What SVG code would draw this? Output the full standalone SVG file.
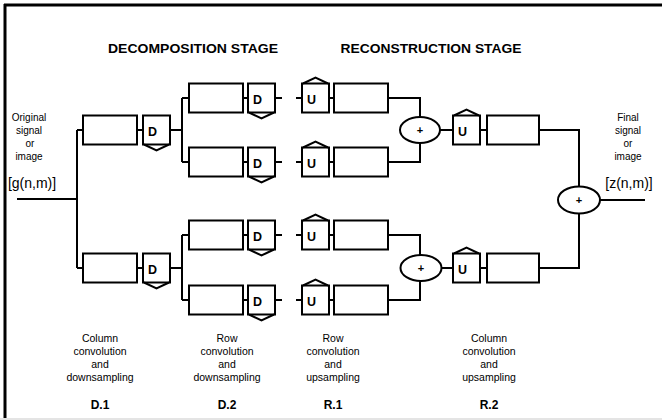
<svg xmlns="http://www.w3.org/2000/svg" width="662" height="420" viewBox="0 0 662 420">
  <style>
    .ln { fill: none; stroke: #000; stroke-width: 2; }
    .box { fill: #fff; stroke: #000; stroke-width: 2; }
    .op { font-family: "Liberation Sans", Arial, sans-serif; font-weight: bold; font-size: 12.5px; fill: #000; }
    .plus { font-family: "Liberation Sans", Arial, sans-serif; font-weight: bold; font-size: 11px; fill: #000; text-anchor: middle; }
    .lbl { font-family: "Liberation Sans", Arial, sans-serif; font-size: 10px; fill: #000; text-anchor: middle; }
    .cap { font-family: "Liberation Sans", Arial, sans-serif; font-size: 10.5px; fill: #000; text-anchor: middle; }
    .sig { font-family: "Liberation Sans", Arial, sans-serif; font-size: 14px; fill: #000; text-anchor: middle; }
    .ttl { font-family: "Liberation Sans", Arial, sans-serif; font-weight: bold; font-size: 13px; fill: #000; text-anchor: middle; }
    .stg { font-family: "Liberation Sans", Arial, sans-serif; font-weight: bold; font-size: 12px; fill: #000; text-anchor: middle; }
  </style>
  <defs>
    <!-- filter block -->
    <rect id="flt" class="box" x="0" y="0" width="54" height="29"/>
    <rect id="fltR" class="box" x="0" y="0" width="52" height="29"/>
    <!-- downsampler: square with chevron below -->
    <g id="down">
      <rect class="box" x="0" y="0" width="27" height="29"/>
      <polyline class="ln" points="1,29 13.5,35 26,29"/>
      <text class="op" x="5" y="20">D</text>
    </g>
    <!-- upsampler: square with roof above -->
    <g id="up">
      <rect class="box" x="0" y="0" width="27" height="29"/>
      <polyline class="ln" points="1,0 13.5,-6 26,0"/>
      <text class="op" x="5" y="20">U</text>
    </g>
  </defs>

  <rect x="0" y="0" width="662" height="420" fill="#fff"/>

  <!-- frame -->
  <g id="frame">
    <line x1="4" y1="5" x2="662" y2="5" stroke="#000" stroke-width="3"/>
    <line x1="5" y1="4" x2="5" y2="418" stroke="#000" stroke-width="3"/>
    <line x1="0" y1="419" x2="662" y2="419" stroke="#e4e4e4" stroke-width="2"/>
  </g>

  <!-- titles -->
  <text class="ttl" x="193" y="53" textLength="170" lengthAdjust="spacingAndGlyphs">DECOMPOSITION STAGE</text>
  <text class="ttl" x="431" y="53" textLength="181" lengthAdjust="spacingAndGlyphs">RECONSTRUCTION STAGE</text>

  <!-- input / output labels -->
  <g id="input-label">
    <text class="lbl" x="29" y="121">Original</text>
    <text class="lbl" x="29" y="134">signal</text>
    <text class="lbl" x="30" y="147">or</text>
    <text class="lbl" x="29" y="160">image</text>
    <text class="sig" x="32" y="188">[g(n,m)]</text>
  </g>
  <g id="output-label">
    <text class="lbl" x="628" y="121">Final</text>
    <text class="lbl" x="628" y="134">signal</text>
    <text class="lbl" x="628" y="147">or</text>
    <text class="lbl" x="628" y="160">image</text>
    <text class="sig" x="629" y="188">[z(n,m)]</text>
  </g>

  <!-- connectors -->
  <g id="connectors" class="ln">
    <path d="M17,199 H77 M77,130 V268 M77,130 H83 M77,268 H83"/>
    <path d="M137,130 H143 M170,130 H182 M182,98 V162 M182,98 H189 M182,162 H189"/>
    <path d="M137,268 H143 M170,268 H182 M182,235 V300 M182,235 H189 M182,300 H189"/>
    <path d="M243,98 H248 M275,98 H282 M296,98 H302 M329,98 H334"/>
    <path d="M243,162 H248 M275,162 H282 M296,162 H302 M329,162 H334"/>
    <path d="M243,235 H248 M275,235 H282 M296,235 H302 M329,235 H334"/>
    <path d="M243,300 H248 M275,300 H282 M296,300 H302 M329,300 H334"/>
    <path d="M388,98 H420 V117 M388,162 H420 V143"/>
    <path d="M388,235 H420 V255 M388,300 H420 V281"/>
    <path d="M440,130 H453 M480,130 H487 M539,130 H579 V186.5"/>
    <path d="M441,268 H453 M480,268 H487 M539,268 H579 V213.5"/>
    <path d="M600,200 H645"/>
  </g>

  <!-- D.1: column convolution and downsampling -->
  <g id="d1-high"><use href="#flt" x="83" y="115.5"/><use href="#down" x="143" y="115.5"/></g>
  <g id="d1-low"><use href="#flt" x="83" y="253.5"/><use href="#down" x="143" y="253.5"/></g>

  <!-- D.2: row convolution and downsampling -->
  <g id="d2-a"><use href="#flt" x="189" y="83.5"/><use href="#down" x="248" y="83.5"/></g>
  <g id="d2-b"><use href="#flt" x="189" y="147.5"/><use href="#down" x="248" y="147.5"/></g>
  <g id="d2-c"><use href="#flt" x="189" y="220.5"/><use href="#down" x="248" y="220.5"/></g>
  <g id="d2-d"><use href="#flt" x="189" y="285.5"/><use href="#down" x="248" y="285.5"/></g>

  <!-- R.1: row upsampling and convolution -->
  <g id="r1-a"><use href="#up" x="302" y="83.5"/><use href="#flt" x="334" y="83.5"/></g>
  <g id="r1-b"><use href="#up" x="302" y="147.5"/><use href="#flt" x="334" y="147.5"/></g>
  <g id="r1-c"><use href="#up" x="302" y="220.5"/><use href="#flt" x="334" y="220.5"/></g>
  <g id="r1-d"><use href="#up" x="302" y="285.5"/><use href="#flt" x="334" y="285.5"/></g>

  <!-- summing junctions -->
  <g id="sum-high"><ellipse class="box" cx="420" cy="130" rx="20" ry="13"/><text class="plus" x="420" y="134">+</text></g>
  <g id="sum-low"><ellipse class="box" cx="421" cy="268" rx="20.5" ry="13"/><text class="plus" x="421" y="272">+</text></g>

  <!-- R.2: column upsampling and convolution -->
  <g id="r2-high"><use href="#up" x="453" y="115.5"/><use href="#fltR" x="487" y="115.5"/></g>
  <g id="r2-low"><use href="#up" x="453" y="253.5"/><use href="#fltR" x="487" y="253.5"/></g>

  <g id="sum-out"><ellipse class="box" cx="579" cy="200" rx="21" ry="13.5"/><text class="plus" x="579" y="204">+</text></g>

  <!-- stage captions -->
  <g id="cap-d1">
    <text class="cap" x="100" y="342">Column</text>
    <text class="cap" x="100" y="355">convolution</text>
    <text class="cap" x="100" y="368">and</text>
    <text class="cap" x="100" y="381">downsampling</text>
    <text class="stg" x="100" y="409">D.1</text>
  </g>
  <g id="cap-d2">
    <text class="cap" x="227" y="342">Row</text>
    <text class="cap" x="227" y="355">convolution</text>
    <text class="cap" x="227" y="368">and</text>
    <text class="cap" x="227" y="381">downsampling</text>
    <text class="stg" x="227" y="409">D.2</text>
  </g>
  <g id="cap-r1">
    <text class="cap" x="333" y="342">Row</text>
    <text class="cap" x="333" y="355">convolution</text>
    <text class="cap" x="333" y="368">and</text>
    <text class="cap" x="333" y="381">upsampling</text>
    <text class="stg" x="333" y="409">R.1</text>
  </g>
  <g id="cap-r2">
    <text class="cap" x="489" y="342">Column</text>
    <text class="cap" x="489" y="355">convolution</text>
    <text class="cap" x="489" y="368">and</text>
    <text class="cap" x="489" y="381">upsampling</text>
    <text class="stg" x="489" y="409">R.2</text>
  </g>
</svg>
